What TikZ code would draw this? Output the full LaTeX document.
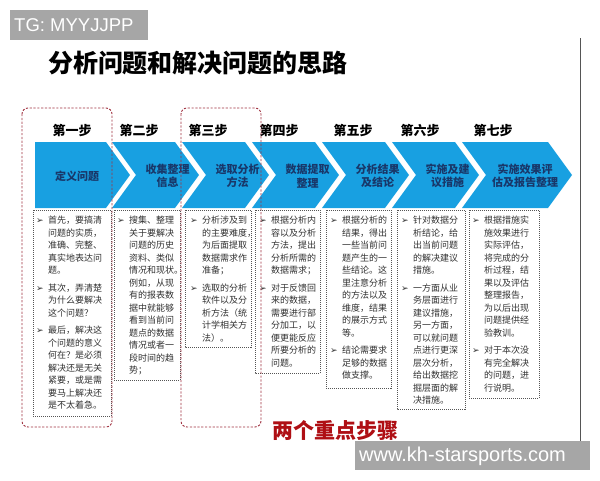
\documentclass[tikz,border=0pt]{standalone}
\usepackage{fontspec}
\setmainfont{Noto Sans CJK SC}
\newfontfamily\wmfont{Liberation Sans}
\newfontfamily\symfont{DejaVu Sans}
\definecolor{cblue}{RGB}{24,160,225}
\definecolor{navy}{RGB}{25,55,105}
\definecolor{dred}{RGB}{160,50,65}
\definecolor{titlered}{RGB}{175,15,20}
\definecolor{dgray}{RGB}{85,85,85}
\definecolor{tgray}{RGB}{50,50,50}
\definecolor{wmgray}{RGB}{166,166,166}
\newcommand\bl{\makebox[12pt][l]{\symfont\fontsize{9}{9}\selectfont ➢}}
\newcommand\ii{\hspace*{12pt}}
\tikzset{
  steplbl/.style={font=\bfseries\fontsize{13}{13}\selectfont, text=black, inner sep=0pt},
  chevtxt/.style={font=\bfseries\fontsize{11}{13.5}\selectfont, text=navy, align=center, inner sep=0pt},
  gbox/.style={draw=dgray, line width=0.8pt, dash pattern=on 1pt off 1pt},
  rbox/.style={draw=dred, line width=0.9pt, dash pattern=on 2.2pt off 1.6pt, rounded corners=6pt},
  btxt/.style={font=\fontsize{9}{12.5}\selectfont, text=tgray, align=left, anchor=north west, inner sep=0pt},
}
\begin{document}
\begin{tikzpicture}[x=1pt,y=-1pt]
\useasboundingbox (0,0) rectangle (600,480);
\fill[white] (0,0) rectangle (600,480);
% frame line
\draw[draw=dgray, line width=0.8pt] (580,38) -- (580,441);
% TG watermark
\fill[wmgray] (10,10) rectangle (148,40);
\node[anchor=west, inner sep=0pt, text=white, font=\wmfont\fontsize{18.5}{18.5}\selectfont] (tg) at (14,25.5) {TG: MYYJJPP};
% title
\node[font=\bfseries\fontsize{25}{25}\selectfont, inner sep=0pt] (title) at (198,63) {分析问题和解决问题的思路};
% chevrons
\fill[cblue] (35,142) -- (106,142) -- (130,175) -- (106,208) -- (35,208) -- cycle;
\foreach \a/\b in {112/175, 182/245, 252/315, 322/385, 392/455, 462/548}
  \fill[cblue] (\a,142) -- (\b,142) -- (\b+24,175) -- (\b,208) -- (\a,208) -- (\a+24,175) -- cycle;
% step labels
\node[steplbl] (s1) at (72,130) {第一步};
\node[steplbl] (s2) at (139,130) {第二步};
\node[steplbl] (s3) at (208,130) {第三步};
\node[steplbl] (s4) at (279,130) {第四步};
\node[steplbl] (s5) at (353,130) {第五步};
\node[steplbl] (s6) at (420,130) {第六步};
\node[steplbl] (s7) at (493,130) {第七步};
% chevron texts
\node[chevtxt] (c1) at (77,176) {定义问题};
\node[chevtxt] (c2) at (167.5,176) {收集整理\\信息};
\node[chevtxt] (c3) at (237.5,176) {选取分析\\方法};
\node[chevtxt] (c4) at (307.5,176) {数据提取\\整理};
\node[chevtxt] (c5) at (377.5,176) {分析结果\\及结论};
\node[chevtxt] (c6) at (447.5,176) {实施及建\\议措施};
\node[chevtxt] (c7) at (525,176) {实施效果评\\估及报告整理};
% text boxes
\draw[gbox] (33,210) rectangle (111,416);
\draw[gbox] (114,210) rectangle (180,380);
\draw[gbox] (185,210) rectangle (251,347);
\draw[gbox] (255,210) rectangle (320,373);
\draw[gbox] (326,210) rectangle (391,388);
\draw[gbox] (397,210) rectangle (465,409);
\draw[gbox] (469,210) rectangle (539,398);
\node[btxt] (t1) at (36,216) {\bl{}首先，要搞清\\\ii{}问题的实质，\\\ii{}准确、完整、\\\ii{}真实地表达问\\\ii{}题。\\[5pt]
\bl{}其次，弄清楚\\\ii{}为什么要解决\\\ii{}这个问题？\\[5pt]
\bl{}最后，解决这\\\ii{}个问题的意义\\\ii{}何在？是必须\\\ii{}解决还是无关\\\ii{}紧要，或是需\\\ii{}要马上解决还\\\ii{}是不太着急。};
\node[btxt] (t2) at (117,216) {\bl{}搜集、整理\\\ii{}关于要解决\\\ii{}问题的历史\\\ii{}资料、类似\\\ii{}情况和现状。\\\ii{}例如，从现\\\ii{}有的报表数\\\ii{}据中就能够\\\ii{}看到当前问\\\ii{}题点的数据\\\ii{}情况或者一\\\ii{}段时间的趋\\\ii{}势；};
\node[btxt] (t3) at (190,216) {\bl{}分析涉及到\\\ii{}的主要难度，\\\ii{}为后面提取\\\ii{}数据需求作\\\ii{}准备；\\[5pt]
\bl{}选取的分析\\\ii{}软件以及分\\\ii{}析方法（统\\\ii{}计学相关方\\\ii{}法）。};
\node[btxt] (t4) at (259,216) {\bl{}根据分析内\\\ii{}容以及分析\\\ii{}方法，提出\\\ii{}分析所需的\\\ii{}数据需求；\\[5pt]
\bl{}对于反馈回\\\ii{}来的数据，\\\ii{}需要进行部\\\ii{}分加工，以\\\ii{}便更能反应\\\ii{}所要分析的\\\ii{}问题。};
\node[btxt] (t5) at (330,216) {\bl{}根据分析的\\\ii{}结果，得出\\\ii{}一些当前问\\\ii{}题产生的一\\\ii{}些结论。这\\\ii{}里注意分析\\\ii{}的方法以及\\\ii{}维度，结果\\\ii{}的展示方式\\\ii{}等。\\[5pt]
\bl{}结论需要求\\\ii{}足够的数据\\\ii{}做支撑。};
\node[btxt] (t6) at (401,216) {\bl{}针对数据分\\\ii{}析结论，给\\\ii{}出当前问题\\\ii{}的解决建议\\\ii{}措施。\\[5pt]
\bl{}一方面从业\\\ii{}务层面进行\\\ii{}建议措施，\\\ii{}另一方面，\\\ii{}可以就问题\\\ii{}点进行更深\\\ii{}层次分析，\\\ii{}给出数据挖\\\ii{}掘层面的解\\\ii{}决措施。};
\node[btxt] (t7) at (472,216) {\bl{}根据措施实\\\ii{}施效果进行\\\ii{}实际评估，\\\ii{}将完成的分\\\ii{}析过程，结\\\ii{}果以及评估\\\ii{}整理报告，\\\ii{}为以后出现\\\ii{}问题提供经\\\ii{}验教训。\\[5pt]
\bl{}对于本次没\\\ii{}有完全解决\\\ii{}的问题，进\\\ii{}行说明。};
% red dashed emphasis boxes
\draw[rbox] (22,108) rectangle (112,427);
\draw[rbox] (181,108) rectangle (261,427);
\node[font=\bfseries\fontsize{21}{21}\selectfont, text=titlered, inner sep=0pt] (key) at (335,431) {两个重点步骤};
% bottom watermark
\fill[wmgray] (355,441) rectangle (590,470);
\node[anchor=west, inner sep=0pt, text=white, font=\wmfont\fontsize{20}{20}\selectfont] (wm) at (359,456) {www.kh-starsports.com};
\end{tikzpicture}
\end{document}
